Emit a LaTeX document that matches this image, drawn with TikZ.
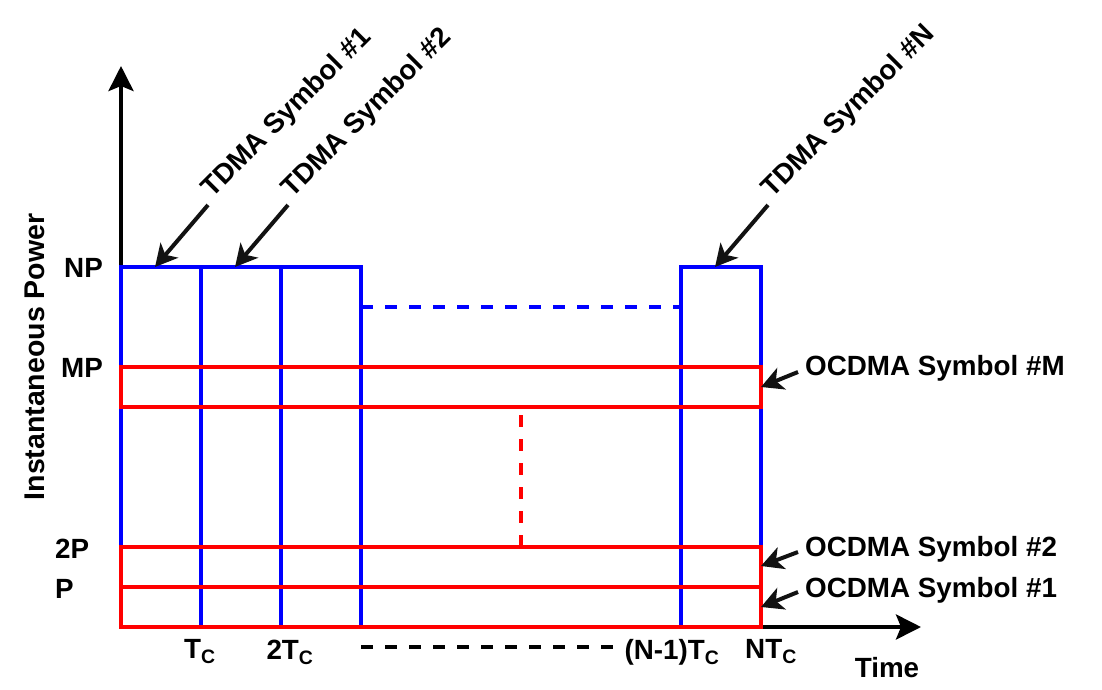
\documentclass[tikz,border=0pt]{standalone}
\usepackage{fontspec}
\setmainfont{Liberation Sans}
\usetikzlibrary{arrows.meta}
\begin{document}
\begin{tikzpicture}[x=1pt,y=-1pt,
  lbl/.style={font=\fontsize{27.8}{32}\selectfont\bfseries, inner sep=0pt, text=black},
  axis/.style={line width=4pt, black, -{Stealth[length=25pt,width=25pt,inset=5pt]}},
  ptr/.style={line width=4pt, black!93, -{Stealth[length=22pt,width=23pt,inset=6pt]}},
  bl/.style={line width=4pt, blue},
  rd/.style={line width=4pt, red},
  dsh/.style={dash pattern=on 12pt off 12pt}]
\useasboundingbox (0,0) rectangle (1102,690);
% axes
\coordinate (O) at (121,627);
\coordinate (ytip) at (121,66);
\coordinate (xtip) at (921,627);
\draw[axis] (O) -- (ytip);
\draw[axis] (O) -- (xtip);
% blue TDMA slots
\draw[bl] (121,627) -- (121,267) -- (361,267) -- (361,627);
\draw[bl] (201,267) -- (201,627);
\draw[bl] (281,267) -- (281,627);
\draw[bl] (681,627) -- (681,267) -- (761,267) -- (761,627);
\draw[bl,dsh] (361,307) -- (681,307);
% red OCDMA bands
\draw[rd] (121,367) rectangle (761,407);
\draw[rd] (121,547) rectangle (761,587);
\draw[rd] (121,587) rectangle (761,627);
\draw[rd,dsh,dash phase=16pt] (521,407) -- (521,547);
% black dashed time ellipsis
\draw[line width=4pt,black,dsh] (361,647) -- (617,647);
% y labels
\node[lbl,anchor=east] (np) at (103,268) {NP};
\node[lbl,anchor=east] (mp) at (103,368) {MP};
\node[lbl,anchor=west] (p2) at (55,549) {2P};
\node[lbl,anchor=west] (p1) at (55,589) {P};
\node[lbl,rotate=90,font=\fontsize{28.5}{32}\selectfont\bfseries] (ylab) at (35,357) {Instantaneous Power};
% x labels
\node[lbl] (tc1) at (200,652) {T\textsubscript{C}};
\node[lbl] (tc2) at (290,652) {2T\textsubscript{C}};
\node[lbl] (tcn1) at (672,652) {(N-1)T\textsubscript{C}};
\node[lbl] (tcn) at (771,652) {NT\textsubscript{C}};
\node[lbl] (time) at (887,668) {Time};
% TDMA labels
\node[lbl,rotate=45,anchor=base west] (t1) at (212,199) {TDMA Symbol \#1};
\node[lbl,rotate=45,anchor=base west] (t2) at (292,199) {TDMA Symbol \#2};
\node[lbl,rotate=45,anchor=base west] (tn) at (772,199) {TDMA Symbol \#N};
\coordinate (t1s) at (208,205); \coordinate (t1e) at (155,267);
\coordinate (t2s) at (288,205); \coordinate (t2e) at (235,267);
\coordinate (tns) at (768,205); \coordinate (tne) at (715,267);
\draw[ptr] (t1s) -- (t1e);
\draw[ptr] (t2s) -- (t2e);
\draw[ptr] (tns) -- (tne);
% OCDMA labels
\node[lbl,anchor=west] (om) at (805,368) {OCDMA Symbol \#M};
\node[lbl,anchor=west] (o2) at (805,549) {OCDMA Symbol \#2};
\node[lbl,anchor=west] (o1) at (805,590) {OCDMA Symbol \#1};
\coordinate (oms) at (798,372); \coordinate (ome) at (761,387);
\coordinate (o2s) at (798,552); \coordinate (o2e) at (761,566);
\coordinate (o1s) at (798,592); \coordinate (o1e) at (761,607);
\draw[ptr] (oms) -- (ome);
\draw[ptr] (o2s) -- (o2e);
\draw[ptr] (o1s) -- (o1e);
\end{tikzpicture}
\end{document}
